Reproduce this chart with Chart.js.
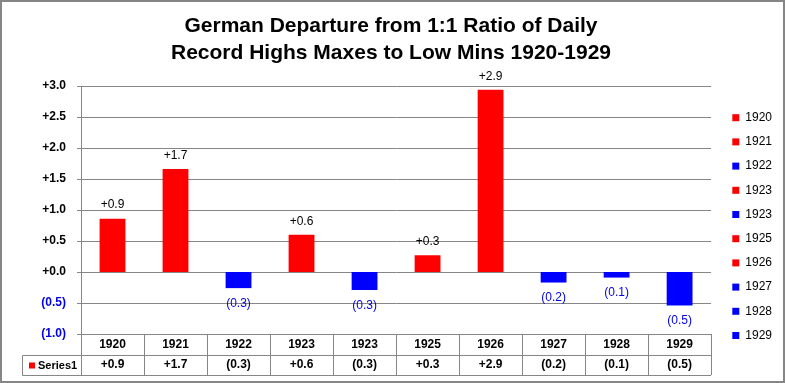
<!DOCTYPE html>
<html><head><meta charset="utf-8">
<script src="https://cdn.jsdelivr.net/npm/chart.js@4.4.1/dist/chart.umd.min.js"></script>
<style>html,body{margin:0;padding:0;background:#fff}#wrap{width:785px;height:383px;position:relative}</style>
</head><body><div id="wrap"><canvas id="c" width="785" height="383"></canvas></div>
<script>
const titleLines = ['German Departure from 1:1 Ratio of Daily', 'Record Highs Maxes to Low Mins 1920-1929'];
const categories = ['1920', '1921', '1922', '1923', '1923', '1925', '1926', '1927', '1928', '1929'];
const values = [0.86, 1.66, -0.26, 0.60, -0.29, 0.27, 2.94, -0.17, -0.09, -0.54];
const seriesName = 'Series1';
const yMin = -1.0, yMax = 3.0, yStep = 0.5;

const RED = '#FF0000', BLUE = '#0000FF', LABEL_BLUE = '#0000E6', GRID = '#868686';
const FONT = "'Liberation Sans', Arial, sans-serif";
const colors = values.map(v => v >= 0 ? RED : BLUE);
const fmt = v => v < 0 ? '(' + (-v).toFixed(1) + ')' : '+' + Math.abs(v).toFixed(1);

const bgBorder = {
  id: 'bgBorder',
  beforeDraw(chart) {
    const c = chart.ctx;
    c.save(); c.fillStyle = '#fff'; c.fillRect(0, 0, chart.width, chart.height); c.restore();
  },
  afterDraw(chart) {
    const c = chart.ctx;
    c.save(); c.strokeStyle = GRID; c.lineWidth = 2;
    c.strokeRect(1, 1, chart.width - 2, chart.height - 2); c.restore();
  }
};

const barLabels = {
  id: 'barLabels',
  afterDatasetsDraw(chart) {
    const c = chart.ctx;
    const meta = chart.getDatasetMeta(0);
    c.save();
    c.font = '12px ' + FONT;
    c.textAlign = 'center'; c.textBaseline = 'middle';
    meta.data.forEach((el, i) => {
      const v = values[i];
      if (v >= 0) { c.fillStyle = '#000'; c.fillText(fmt(v), el.x, el.y - 13.5); }
      else { c.fillStyle = LABEL_BLUE; c.fillText(fmt(v), el.x, el.y + 15.5); }
    });
    c.restore();
  }
};

const dataTable = {
  id: 'dataTable',
  afterDraw(chart) {
    const c = chart.ctx, xs = chart.scales.x;
    const rowH = 20.5;
    const yMid = Math.round(xs.top + rowH) + 0.5;
    const yBot = Math.round(xs.top + 2 * rowH) + 0.5;
    const xLeft = Math.round(chart.chartArea.left - 59) + 0.5;
    c.save();
    c.strokeStyle = GRID; c.lineWidth = 1;
    c.beginPath();
    c.moveTo(xLeft, yMid); c.lineTo(xs.right, yMid);
    c.moveTo(xLeft, yBot); c.lineTo(xs.right, yBot);
    c.moveTo(xLeft, yMid); c.lineTo(xLeft, yBot);
    c.stroke();
    c.fillStyle = colors[0];
    c.fillRect(xLeft + 6.5, yMid + 7, 6, 6);
    c.fillStyle = '#000';
    c.font = 'bold 11px ' + FONT;
    c.textAlign = 'left'; c.textBaseline = 'middle';
    c.fillText(seriesName, xLeft + 15.5, (yMid + yBot) / 2 + 0.5);
    c.restore();
  }
};

new Chart(document.getElementById('c'), {
  type: 'bar',
  data: {
    labels: categories,
    datasets: [{
      label: seriesName,
      data: values,
      backgroundColor: colors,
      borderWidth: 0,
      categoryPercentage: 0.41,
      barPercentage: 1
    }]
  },
  options: {
    responsive: false,
    animation: false,
    devicePixelRatio: 1,
    layout: { padding: { top: 0, right: 3, bottom: 0, left: 0 } },
    plugins: {
      title: {
        display: true, text: titleLines, color: '#000',
        font: { family: FONT, size: 21, weight: 'bold', lineHeight: '27px' },
        padding: { top: 12.5, bottom: 19.5 }
      },
      legend: {
        position: 'right', align: 'start', fullSize: true,
        title: { display: true, text: '', font: { size: 12, lineHeight: '14px' }, padding: { top: 85.5, bottom: 0 } },
        labels: {
          boxWidth: 7, boxHeight: 7, padding: 12.2, color: '#000',
          font: { family: FONT, size: 12 },
          generateLabels: () => categories.map((c, i) => ({
            text: c, fillStyle: colors[i], strokeStyle: colors[i], fontColor: '#000', lineWidth: 0,
            hidden: false, index: i, datasetIndex: 0
          }))
        }
      },
      tooltip: { enabled: false }
    },
    scales: {
      x: {
        position: 'bottom', offset: true,
        grid: { offset: true, drawOnChartArea: false, drawTicks: true, tickLength: 41, color: GRID, lineWidth: 1 },
        border: { display: true, color: GRID },
        ticks: {
          padding: -40, autoSkip: false, maxRotation: 0, minRotation: 0, color: '#000',
          font: { family: FONT, size: 12, weight: 'bold', lineHeight: '20px' },
          callback: (v, i) => [categories[i], fmt(values[i])]
        },
        afterFit: s => { s.height = 49; }
      },
      gap: {
        type: 'linear', axis: 'y', position: 'right', display: true,
        grid: { display: false, drawTicks: false }, ticks: { display: false }, border: { display: false },
        afterFit: s => { s.width = 9; }
      },
      y: {
        position: 'left', min: yMin, max: yMax,
        grid: { color: GRID, lineWidth: 1, tickLength: 4 },
        border: { display: true, color: GRID },
        ticks: {
          stepSize: yStep, padding: 11,
          font: { family: FONT, size: 12, weight: 'bold' },
          color: ctx => ctx.tick.value < 0 ? LABEL_BLUE : '#000',
          callback: v => fmt(v)
        },
        afterFit: s => { s.width = 81; }
      }
    }
  },
  plugins: [bgBorder, barLabels, dataTable]
});
</script>
</body></html>
